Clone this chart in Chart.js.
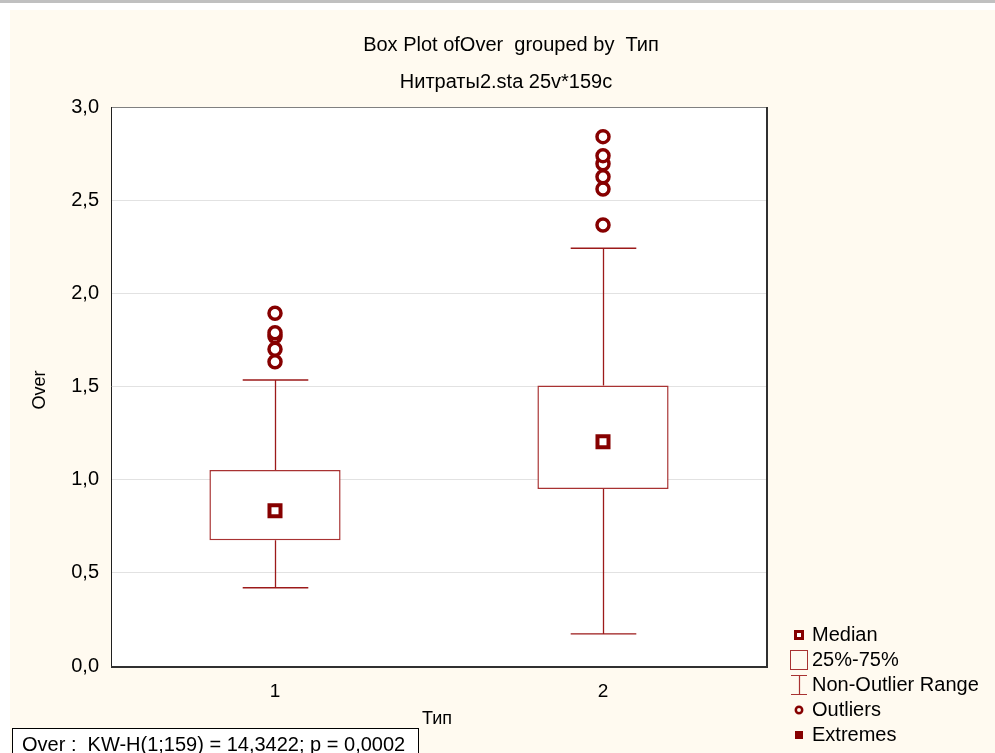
<!DOCTYPE html>
<html>
<head>
<meta charset="utf-8">
<script src="https://cdn.jsdelivr.net/npm/chart.js@4.4.1/dist/chart.umd.min.js"></script>
<style>
    html, body { margin: 0; padding: 0; background: #fff; }
    #c { display: block; }
</style>
</head>
<body>
<canvas id="c" width="995" height="753"></canvas>
<script>
// ===== Box Plot: Over grouped by Тип =====
const categories = ['1', '2'];
const q1 = [0.675, 0.950];
const q3 = [1.052, 1.506];
const medians = [0.833, 1.203];
const whiskerLow = [0.420, 0.172];
const whiskerHigh = [1.535, 2.242];
const outliers1 = [1.633, 1.700, 1.768, 1.789, 1.893];
const outliers2 = [2.367, 2.560, 2.626, 2.695, 2.739, 2.841];
const legendItems = ['Median', '25%-75%', 'Non-Outlier Range', 'Outliers', 'Extremes'];

const FONT = 'Arial, "Liberation Sans", sans-serif';
const BOX = '#a83232';
const WHISKER = '#9c1a1a';
const MARK = '#860000';
const CREAM = '#fffaf0';

// page background, white plot area
const backdrop = {
    id: 'backdrop',
    beforeDraw(chart) {
        const { ctx, width, height, chartArea: a } = chart;
        ctx.save();
        ctx.fillStyle = '#fff'; ctx.fillRect(0, 0, width, height);
        ctx.fillStyle = '#c0c0c0'; ctx.fillRect(0, 0, width, 3);
        ctx.fillStyle = CREAM; ctx.fillRect(10, 10, width - 10, height - 10);
        ctx.fillStyle = '#fff'; ctx.fillRect(a.left, a.top, a.right - a.left, a.bottom - a.top);
        ctx.restore();
    }
};

// whisker lines and caps
const whiskers = {
    id: 'whiskers',
    beforeDatasetsDraw(chart) {
        const { ctx, scales: { x, y } } = chart;
        const cap = (x.getPixelForValue(1) - x.getPixelForValue(0)) * 0.1;
        ctx.save();
        ctx.strokeStyle = WHISKER; ctx.lineWidth = 1.3;
        categories.forEach((c, i) => {
            const cx = Math.round(x.getPixelForValue(i)) + 0.5;
            const lo = y.getPixelForValue(whiskerLow[i]), hi = y.getPixelForValue(whiskerHigh[i]);
            ctx.beginPath();
            ctx.moveTo(cx, hi); ctx.lineTo(cx, y.getPixelForValue(q3[i]));
            ctx.moveTo(cx, y.getPixelForValue(q1[i])); ctx.lineTo(cx, lo);
            ctx.moveTo(cx - cap, hi); ctx.lineTo(cx + cap, hi);
            ctx.moveTo(cx - cap, lo); ctx.lineTo(cx + cap, lo);
            ctx.stroke();
        });
        ctx.restore();
    }
};

// frame, titles, stats box, legend
const decor = {
    id: 'decor',
    afterDraw(chart) {
        const { ctx, chartArea: a } = chart;
        ctx.save();
        ctx.strokeStyle = '#808080'; ctx.lineWidth = 1;
        ctx.beginPath(); ctx.moveTo(a.left, a.top + 0.5); ctx.lineTo(a.right, a.top + 0.5); ctx.stroke();
        ctx.strokeStyle = '#202020';
        ctx.beginPath(); ctx.moveTo(a.left + 0.5, a.top); ctx.lineTo(a.left + 0.5, a.bottom); ctx.stroke();
        ctx.strokeStyle = '#303030'; ctx.lineWidth = 2;
        ctx.beginPath(); ctx.moveTo(a.right, a.top); ctx.lineTo(a.right, a.bottom + 1); ctx.lineTo(a.left, a.bottom + 1); ctx.stroke();

        ctx.fillStyle = '#000'; ctx.textBaseline = 'middle';
        ctx.textAlign = 'center'; ctx.font = '20px ' + FONT;
        ctx.fillText('Box Plot ofOver  grouped by  Тип', 511, 45);
        ctx.fillText('Нитраты2.sta 25v*159c', 506, 82);

        ctx.font = '18px ' + FONT;
        ctx.save(); ctx.translate(40, 390); ctx.rotate(-Math.PI / 2); ctx.fillText('Over', 0, 0); ctx.restore();
        ctx.textAlign = 'left';
        ctx.fillText('Тип', 422, 719);

        // stats box
        ctx.fillStyle = '#fff'; ctx.fillRect(12, 728, 406, 30);
        ctx.strokeStyle = '#000'; ctx.lineWidth = 1; ctx.strokeRect(12.5, 728.5, 406, 30);
        ctx.fillStyle = '#000'; ctx.font = '20px ' + FONT;
        ctx.fillText('Over :  KW-H(1;159) = 14,3422; p = 0,0002', 22, 745);

        // legend
        const lx = 799, tx = 812;
        ctx.font = '20px ' + FONT;
        legendItems.forEach((t, i) => {
            const ly = 635 + i * 25;
            ctx.fillStyle = '#000'; ctx.fillText(t, tx, ly);
            if (i === 0) {
                ctx.fillStyle = MARK; ctx.fillRect(lx - 5, ly - 5, 10, 10);
                ctx.fillStyle = '#fff'; ctx.fillRect(lx - 2, ly - 2, 4, 4);
            } else if (i === 1) {
                ctx.strokeStyle = BOX; ctx.lineWidth = 1; ctx.strokeRect(lx - 8.5, ly - 9.5, 17, 19);
            } else if (i === 2) {
                ctx.strokeStyle = BOX; ctx.lineWidth = 1.2;
                ctx.beginPath();
                ctx.moveTo(lx - 8, ly - 9.5); ctx.lineTo(lx + 8, ly - 9.5);
                ctx.moveTo(lx + 0.5, ly - 9.5); ctx.lineTo(lx + 0.5, ly + 9.5);
                ctx.moveTo(lx - 8, ly + 9.5); ctx.lineTo(lx + 8, ly + 9.5);
                ctx.stroke();
            } else if (i === 3) {
                ctx.strokeStyle = MARK; ctx.lineWidth = 2.5;
                ctx.beginPath(); ctx.arc(lx, ly, 3.2, 0, Math.PI * 2); ctx.stroke();
            } else {
                ctx.fillStyle = MARK; ctx.fillRect(lx - 4, ly - 4, 8, 8);
            }
        });
        ctx.restore();
    }
};

const ctx = document.getElementById('c').getContext('2d');
new Chart(ctx, {
    type: 'bar',
    data: {
        labels: categories,
        datasets: [
            { type: 'bar', order: 3, data: q1.map((v, i) => [v, q3[i]]), backgroundColor: '#fff', borderColor: BOX, borderWidth: 1.5,
              borderSkipped: false, barPercentage: 0.4, categoryPercentage: 1 },
            { type: 'line', order: 1, data: medians, showLine: false, pointStyle: 'rect', pointRadius: 7.8, borderWidth: 4,
              borderColor: MARK, backgroundColor: '#fff' },
            { type: 'line', order: 1, data: outliers1.map(v => ({ x: '1', y: v })), showLine: false, pointStyle: 'circle', pointRadius: 6,
              borderWidth: 3.5, borderColor: MARK, backgroundColor: '#fff' },
            { type: 'line', order: 1, data: outliers2.map(v => ({ x: '2', y: v })), showLine: false, pointStyle: 'circle', pointRadius: 6,
              borderWidth: 3.5, borderColor: MARK, backgroundColor: '#fff' }
        ]
    },
    options: {
        responsive: false, animation: false,
        layout: { padding: { left: 0, right: 228, top: 107, bottom: 47 } },
        scales: {
            x: { type: 'category', offset: true, grid: { display: false, drawTicks: false }, border: { display: false },
                 ticks: { padding: 14, color: '#000', font: { size: 19, family: FONT } },
                 afterFit: s => { s.height = 40; } },
            y: { min: 0, max: 3, border: { display: false },
                 grid: { drawTicks: false, color: c => (c.tick.value === 0 || c.tick.value === 3) ? 'rgba(0,0,0,0)' : '#e2e2e2' },
                 ticks: { stepSize: 0.5, padding: 12, color: '#000', font: { size: 20, family: FONT },
                          callback: v => v.toFixed(1).replace('.', ',') },
                 afterFit: s => { s.width = 111; } }
        },
        plugins: { legend: { display: false }, tooltip: { enabled: false } }
    },
    plugins: [backdrop, whiskers, decor]
});
</script>
</body>
</html>
